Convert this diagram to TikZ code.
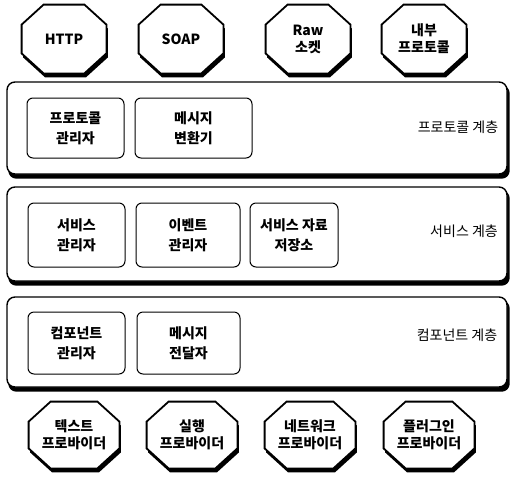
\documentclass[tikz,border=0pt]{standalone}
\usepackage{fontspec}
\setmainfont{Noto Sans CJK KR}
\usetikzlibrary{positioning, backgrounds}
\newcommand{\octagonpath}[3]{%
  ([xshift = 22pt + #2, yshift = #3] #1.north west) -- ([xshift = -22pt + #2, yshift = #3] #1.north east)
  -- ([xshift = #2, yshift = -20pt + #3] #1.north east) -- ([xshift = #2, yshift = 20pt + #3] #1.south east)
  -- ([xshift = -22pt + #2, yshift = #3] #1.south east) -- ([xshift = 22pt + #2, yshift = #3] #1.south west)
  -- ([xshift = #2, yshift = 20pt + #3] #1.south west) -- ([xshift = #2, yshift = -20pt + #3] #1.north west) -- cycle}

\begin{document}
\begin{tikzpicture}[x = 1pt, y = -1pt, thick,
  octa/.style = {minimum width = 84pt, minimum height = 68pt, inner sep = 0pt, align = center, font = \fontsize{14}{17}\selectfont\bfseries},
  octa-line/.style = {draw, line width = 1.8pt, fill = white},
  layer/.style = {draw, line width = 1.4pt, fill = white, rounded corners = 8pt, minimum width = 500pt},
  part/.style = {draw, line width = 1pt, fill = white, rounded corners = 6pt, align = center, font = \fontsize{14}{20}\selectfont\bfseries},
  tag/.style = {font = \fontsize{14}{17}\selectfont},
  shade-fill/.style = {fill = black}]
  \useasboundingbox (0,0) rectangle (510,477);

  % protocols
  \node [octa] (proto-http) at (64,39) {HTTP};
  \node [octa] (proto-soap) at (181,39) {SOAP};
  \node [octa] (proto-raw) at (308,39) {Raw\\소켓};
  \node [octa] (proto-inner) at (424,39) {내부\\프로토콜};

  % layers
  \node [layer, minimum height = 92pt] (layer-protocol) at (257,128) {};
  \node [layer, minimum height = 94pt] (layer-service) at (257,234) {};
  \node [layer, minimum height = 90pt] (layer-component) at (257,342) {};

  \node [tag] (layer-protocol-label) at (458,127) {프로토콜 계층};
  \node [tag] (layer-service-label) at (464,231) {서비스 계층};
  \node [tag] (layer-component-label) at (457,335) {컴포넌트 계층};

  % protocol layer
  \node [part, minimum width = 97pt, minimum height = 60pt] (proto-manager) at (75.5,128) {프로토콜\\관리자};
  \node [part, minimum width = 117pt, minimum height = 60pt] (msg-converter) at (193.5,128) {메시지\\변환기};

  % service layer
  \node [part, minimum width = 97pt, minimum height = 64pt] (service-manager) at (76.5,235) {서비스\\관리자};
  \node [part, minimum width = 104pt, minimum height = 64pt] (event-manager) at (188,235) {이벤트\\관리자};
  \node [part, minimum width = 88pt, minimum height = 64pt] (service-store) at (294,235) {서비스 자료\\저장소};

  % component layer
  \node [part, minimum width = 97pt, minimum height = 62pt] (comp-manager) at (76.5,343) {컴포넌트\\관리자};
  \node [part, minimum width = 103pt, minimum height = 62pt] (msg-dispatcher) at (188.5,343) {메시지\\전달자};

  % providers
  \node [octa, minimum width = 90pt, minimum height = 66pt] (provider-text) at (74,435) {텍스트\\프로바이더};
  \node [octa, minimum width = 90pt, minimum height = 66pt] (provider-exec) at (192,435) {실행\\프로바이더};
  \node [octa, minimum width = 90pt, minimum height = 66pt] (provider-net) at (310,435) {네트워크\\프로바이더};
  \node [octa, minimum width = 90pt, minimum height = 66pt] (provider-plugin) at (429,435) {플러그인\\프로바이더};

  % shadows and octagon outlines
  \begin{scope}[on background layer]
    \foreach \n in {layer-protocol, layer-service, layer-component}
      \fill [shade-fill, rounded corners = 8pt] ([xshift = 2pt, yshift = -4pt] \n.north west) rectangle ([xshift = 2pt, yshift = -4pt] \n.south east);
    \foreach \n in {proto-http, proto-soap, proto-raw, proto-inner, provider-text, provider-exec, provider-net, provider-plugin} {
      \fill [shade-fill] \octagonpath{\n}{1.5pt}{-4pt};
      \draw [octa-line] \octagonpath{\n}{0pt}{0pt};
    }
  \end{scope}

\end{tikzpicture}
\end{document}
